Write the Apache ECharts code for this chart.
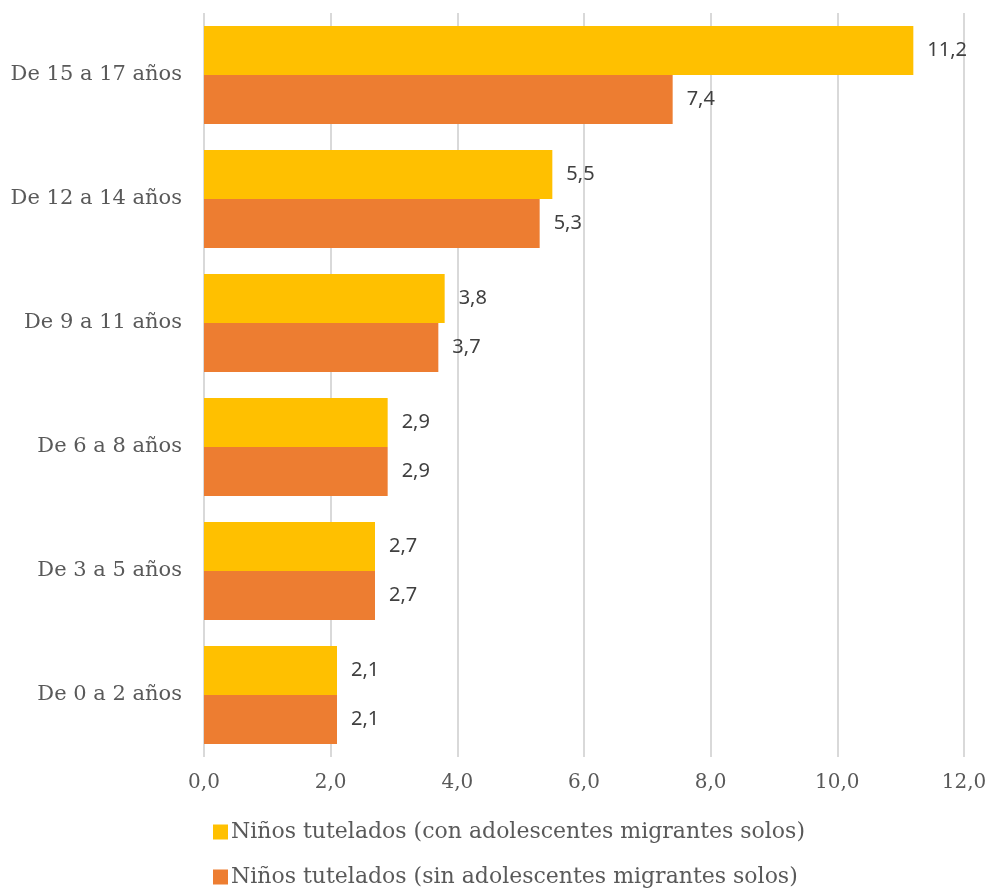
<!DOCTYPE html>
<html><head><meta charset="utf-8">
<script src="https://cdn.jsdelivr.net/npm/echarts@6/dist/echarts.min.js"></script>
<style>html,body{margin:0;padding:0;background:#fff}#c{width:990px;height:890px}</style>
</head><body><div id="c"></div>
<script>
const categories = ['De 0 a 2 años','De 3 a 5 años','De 6 a 8 años','De 9 a 11 años','De 12 a 14 años','De 15 a 17 años'];
const seriesNames = ['Niños tutelados (con adolescentes migrantes solos)','Niños tutelados (sin adolescentes migrantes solos)'];
const conMigrantes = [2.1, 2.7, 2.9, 3.8, 5.5, 11.2];
const sinMigrantes = [2.1, 2.7, 2.9, 3.7, 5.3, 7.4];
const colors = ['#FFC000', '#ED7D31'];
const fmt = v => Number(v).toFixed(1).replace('.', ',');
const serif = 'DejaVu Serif';
const chart = echarts.init(document.getElementById('c'), null, {renderer:'canvas'});
const mk = (name, data, color) => ({
  name, type:'bar', data, barWidth:49, barGap:'0%',
  itemStyle:{color},
  label:{show:true, position:'right', distance:14, formatter:p=>fmt(p.value),
    fontFamily:'Noto Sans', fontSize:20, color:'#404040'}
});
const lg = (name, top) => ({
  orient:'horizontal', left:213, top, padding:0, itemWidth:15, itemHeight:15, itemGap:10,
  icon:'rect', data:[name],
  textStyle:{fontFamily:serif, fontSize:22, color:'#595959', padding:[0,0,0,-2]}
});
chart.setOption({
  animation:false,
  grid:{left:204, right:26, top:13, height:744, containLabel:false},
  xAxis:{type:'value', min:0, max:12, interval:2,
    axisLine:{show:false}, axisTick:{show:false},
    splitLine:{show:true, lineStyle:{color:'#d9d9d9', width:2}},
    axisLabel:{formatter:fmt, fontFamily:serif, fontSize:20, color:'#595959', margin:16}},
  yAxis:{type:'category', data:categories,
    axisLine:{show:false}, axisTick:{show:false},
    axisLabel:{fontFamily:serif, fontSize:21, color:'#595959', margin:22}},
  legend:[lg(seriesNames[0], 821), lg(seriesNames[1], 866)],
  series:[mk(seriesNames[0], conMigrantes, colors[0]), mk(seriesNames[1], sinMigrantes, colors[1])]
});
</script></body></html>
